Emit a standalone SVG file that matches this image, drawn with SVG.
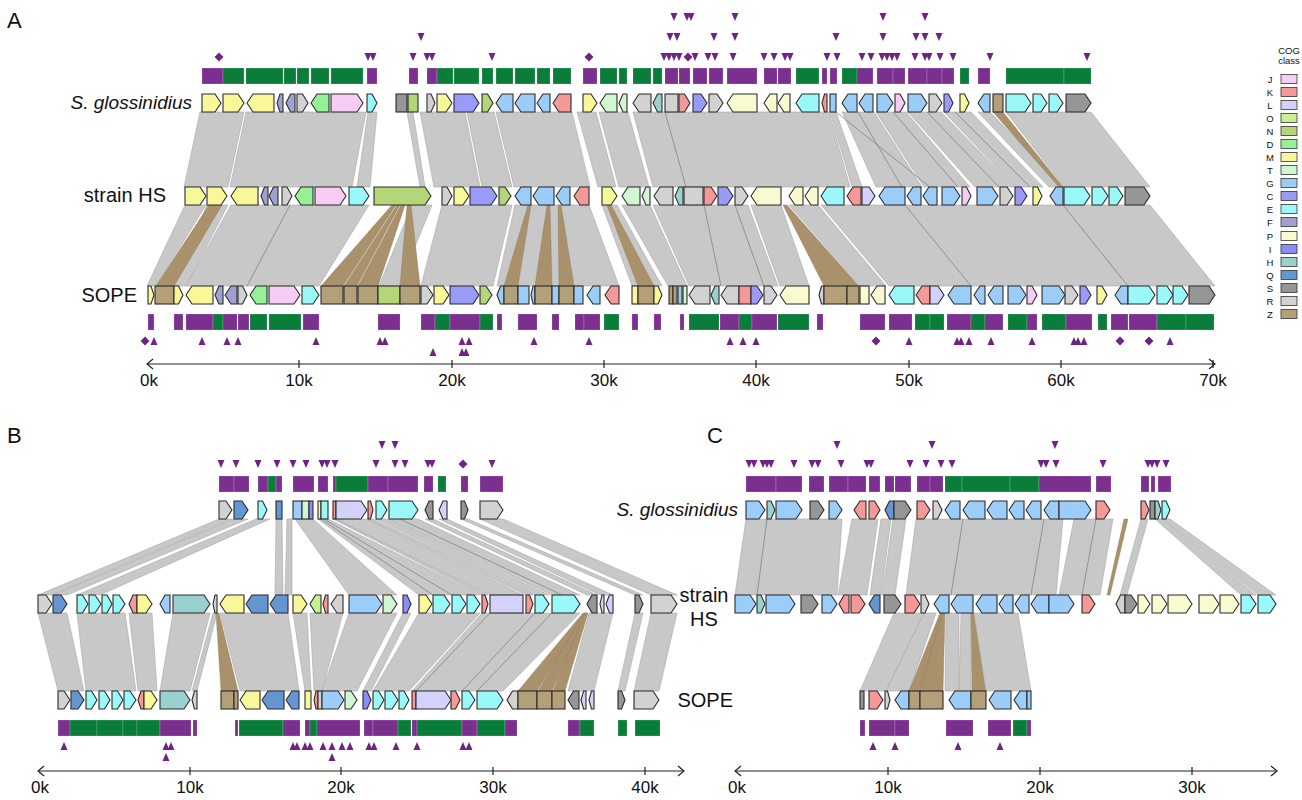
<svg xmlns="http://www.w3.org/2000/svg" width="1302" height="800" viewBox="0 0 1302 800">
<style>
.g{stroke:#2b2b2b;stroke-width:1.1}
.J{fill:#f8cdf5}.K{fill:#f59898}.L{fill:#d2d2fa}.O{fill:#c8f08c}.N{fill:#b4d678}.D{fill:#96f096}.M{fill:#f8f89a}.T{fill:#d2f5d2}.G{fill:#9ccdf8}.C{fill:#9a9af8}.E{fill:#9af8f8}.F{fill:#a0a0d2}.P{fill:#fafad0}.I{fill:#8c8cf8}.H{fill:#9ad0d0}.Q{fill:#6496d2}.S{fill:#969696}.R{fill:#d2d2d2}.Z{fill:#b4a078}
.rb{fill:#c8c8c8;stroke:#a8a8a8;stroke-width:0.6}
.tn{fill:#a8916b;stroke:#8e7a55;stroke-width:0.4}
.ln{stroke:#7a7a7a;stroke-width:0.7}
.bp{fill:#7b2f8f;stroke:#fff;stroke-opacity:.3;stroke-width:.6}
.bg{fill:#0b7d3b;stroke:#fff;stroke-opacity:.3;stroke-width:.6}
.mk{fill:#6e2386}
.lbl{font-family:"Liberation Sans",Arial,sans-serif;font-size:20px;fill:#111}
.it{font-style:italic;font-size:19px}
.pl{font-family:"Liberation Sans",Arial,sans-serif;font-size:22px;fill:#111}
.ax{stroke:#222;stroke-width:1.2;fill:none}
.tk{font-family:"Liberation Sans",Arial,sans-serif;font-size:17px;fill:#111;text-anchor:middle}
.lg{font-family:"Liberation Sans",Arial,sans-serif;font-size:9.5px;fill:#111;text-anchor:middle}
.lb{stroke:#333;stroke-width:0.8}
</style>
<defs>
<path id="td" d="M-3.5,-4 L3.5,-4 L0,4Z"/>
<path id="tu" d="M-3.5,4 L3.5,4 L0,-4Z"/>
<path id="dm" d="M0,-4.5 L4.5,0 L0,4.5 L-4.5,0Z"/>
</defs>
<rect width="1302" height="800" fill="#fff"/>

<g id="connectors">
<polygon class="rb" points="200,112 244,112 228,187 184,187"/>
<polygon class="rb" points="246,112 366,112 352,187 230,187"/>
<polygon class="rb" points="368,112 377,112 370,187 357,187"/>
<polygon class="rb" points="407,112 413,112 425,187 420,187"/>
<polygon class="rb" points="420,112 465,112 480,187 434,187"/>
<polygon class="rb" points="467,112 494,112 512,187 482,187"/>
<polygon class="rb" points="496,112 572,112 590,187 514,187"/>
<polygon class="rb" points="577,112 596,112 616,187 598,187"/>
<polygon class="rb" points="599,112 628,112 649,187 619,187"/>
<polygon class="rb" points="633,112 829,112 850,187 653,187"/>
<polygon class="rb" points="830,112 836,112 862,187 852,187"/>
<polygon class="rb" points="842,112 874,112 922,187 876,187"/>
<polygon class="rb" points="876,112 906,112 970,187 924,187"/>
<polygon class="rb" points="908,112 941,112 1014,187 975,187"/>
<polygon class="rb" points="944,112 971,112 1043,187 1015,187"/>
<polygon class="rb" points="978,112 990,112 1063,187 1049,187"/>
<polygon class="tn" points="993,112 1003,112 1063,187 1059,187"/>
<polygon class="rb" points="1006,112 1091,112 1150,187 1064,187"/>
<line class="ln" x1="665" y1="112" x2="686" y2="187"/>
<line class="ln" x1="836" y1="112" x2="930" y2="187"/>
<line class="ln" x1="858" y1="112" x2="902" y2="187"/>
<line class="ln" x1="893" y1="112" x2="958" y2="187"/>
<line class="ln" x1="927" y1="112" x2="999" y2="187"/>
<line class="ln" x1="955" y1="112" x2="1030" y2="187"/>
<polygon class="rb" points="185,205 206,205 156,286 147,286"/>
<polygon class="rb" points="207,205 228,205 186,286 172,286"/>
<polygon class="tn" points="209,205 222,205 174,286 156,286"/>
<polygon class="rb" points="231,205 369,205 319,286 186,286"/>
<polygon class="rb" points="412,205 432,205 399,286 379,286"/>
<polygon class="tn" points="392,205 396,205 343,286 321,286"/>
<polygon class="tn" points="397,205 400,205 357,286 344,286"/>
<polygon class="tn" points="401,205 405,205 378,286 358,286"/>
<polygon class="tn" points="407,205 411,205 420,286 400,286"/>
<polygon class="rb" points="442,205 512,205 493,286 421,286"/>
<polygon class="rb" points="515,205 589,205 619,286 497,286"/>
<polygon class="tn" points="528,205 531,205 518,286 504,286"/>
<polygon class="tn" points="547,205 550,205 552,286 535,286"/>
<polygon class="tn" points="558,205 561,205 574,286 559,286"/>
<polygon class="rb" points="602,205 617,205 662,286 632,286"/>
<polygon class="tn" points="607,205 611,205 654,286 638,286"/>
<polygon class="rb" points="622,205 650,205 687,286 668,286"/>
<polygon class="rb" points="653,205 748,205 778,286 689,286"/>
<polygon class="rb" points="751,205 781,205 809,286 780,286"/>
<polygon class="tn" points="783,205 787,205 859,286 824,286"/>
<polygon class="rb" points="789,205 818,205 886,286 860,286"/>
<polygon class="rb" points="821,205 1150,205 1215,286 889,286"/>
<line class="ln" x1="290" y1="205" x2="247" y2="286"/>
<line class="ln" x1="704" y1="205" x2="721" y2="286"/>
<line class="ln" x1="735" y1="205" x2="764" y2="286"/>
<line class="ln" x1="905" y1="205" x2="971" y2="286"/>
<line class="ln" x1="1063" y1="205" x2="1128" y2="286"/>
<polygon class="rb" points="219,519 232,519 52,595 38,595"/>
<polygon class="rb" points="234,519 248,519 67,595 53,595"/>
<polygon class="rb" points="256,519 270,519 100,595 77,595"/>
<polygon class="rb" points="276,519 282,519 283,595 275,595"/>
<polygon class="rb" points="287,519 292,519 292,595 285,595"/>
<polygon class="rb" points="295,519 313,519 397,595 349,595"/>
<polygon class="rb" points="318,519 328,519 480,595 419,595"/>
<polygon class="rb" points="333,519 336,519 488,595 482,595"/>
<polygon class="rb" points="336,519 367,519 523,595 490,595"/>
<polygon class="rb" points="368,519 373,519 533,595 526,595"/>
<polygon class="rb" points="376,519 387,519 549,595 535,595"/>
<polygon class="rb" points="389,519 418,519 580,595 552,595"/>
<polygon class="rb" points="425,519 433,519 597,595 587,595"/>
<polygon class="rb" points="439,519 447,519 613,595 600,595"/>
<polygon class="rb" points="461,519 468,519 643,595 635,595"/>
<polygon class="rb" points="480,519 503,519 677,595 651,595"/>
<line class="ln" x1="321" y1="519" x2="433" y2="595"/>
<line class="ln" x1="324" y1="519" x2="452" y2="595"/>
<line class="ln" x1="400" y1="519" x2="562" y2="595"/>
<polygon class="rb" points="38,613 67,613 84,691 58,691"/>
<polygon class="rb" points="77,613 125,613 136,691 86,691"/>
<polygon class="rb" points="129,613 152,613 157,691 138,691"/>
<polygon class="rb" points="173,613 210,613 190,691 160,691"/>
<polygon class="rb" points="213,613 217,613 197,691 192,691"/>
<polygon class="tn" points="216,613 219,613 238,691 221,691"/>
<polygon class="rb" points="220,613 288,613 299,691 240,691"/>
<polygon class="rb" points="293,613 307,613 311,691 305,691"/>
<polygon class="rb" points="310,613 343,613 322,691 314,691"/>
<polygon class="rb" points="349,613 397,613 357,691 322,691"/>
<polygon class="rb" points="403,613 411,613 371,691 363,691"/>
<polygon class="rb" points="419,613 480,613 409,691 373,691"/>
<polygon class="rb" points="482,613 580,613 503,691 412,691"/>
<polygon class="tn" points="583,613 586,613 537,691 518,691"/>
<polygon class="tn" points="584,613 587,613 552,691 538,691"/>
<polygon class="tn" points="585,613 588,613 565,691 553,691"/>
<polygon class="rb" points="589,613 613,613 594,691 568,691"/>
<polygon class="rb" points="635,613 643,613 625,691 618,691"/>
<polygon class="rb" points="651,613 677,613 659,691 634,691"/>
<line class="ln" x1="490" y1="613" x2="416" y2="691"/>
<line class="ln" x1="535" y1="613" x2="462" y2="691"/>
<line class="ln" x1="552" y1="613" x2="477" y2="691"/>
<polygon class="rb" points="746,519 842,519 837,595 735,595"/>
<polygon class="rb" points="852,519 878,519 867,595 838,595"/>
<polygon class="rb" points="881,519 891,519 881,595 870,595"/>
<polygon class="rb" points="893,519 906,519 895,595 882,595"/>
<polygon class="rb" points="916,519 1063,519 1056,595 906,595"/>
<polygon class="rb" points="1074,519 1113,519 1100,595 1059,595"/>
<polygon class="tn" points="1124,519 1128,519 1110,595 1107,595"/>
<polygon class="rb" points="1141,519 1148,519 1127,595 1120,595"/>
<polygon class="rb" points="1155,519 1162,519 1256,595 1241,595"/>
<polygon class="rb" points="1163,519 1170,519 1276,595 1258,595"/>
<line class="ln" x1="767" y1="519" x2="757" y2="595"/>
<line class="ln" x1="963" y1="519" x2="951" y2="595"/>
<line class="ln" x1="1044" y1="519" x2="1031" y2="595"/>
<line class="ln" x1="1096" y1="519" x2="1082" y2="595"/>
<polygon class="rb" points="894,613 924,613 886,691 860,691"/>
<polygon class="rb" points="924,613 936,613 909,691 886,691"/>
<polygon class="tn" points="940,613 943,613 920,691 909,691"/>
<polygon class="tn" points="942,613 945,613 943,691 920,691"/>
<polygon class="rb" points="946,613 959,613 959,691 945,691"/>
<polygon class="rb" points="961,613 971,613 971,691 959,691"/>
<polygon class="tn" points="971,613 974,613 986,691 972,691"/>
<polygon class="rb" points="974,613 1018,613 1031,691 986,691"/>
</g>

<g id="A-sg-bars">
<rect class="bp" x="202" y="68" width="21" height="16"/>
<rect class="bg" x="223" y="68" width="21" height="16"/><rect class="bg" x="246" y="68" width="37" height="16"/><rect class="bg" x="284" y="68" width="12" height="16"/><rect class="bg" x="297" y="68" width="12" height="16"/><rect class="bg" x="311" y="68" width="18" height="16"/><rect class="bg" x="331" y="68" width="32" height="16"/>
<rect class="bp" x="367" y="68" width="10" height="16"/>
<rect class="bp" x="409" y="68" width="9" height="16"/>
<rect class="bp" x="427" y="68" width="10" height="16"/>
<rect class="bg" x="437" y="68" width="16" height="16"/><rect class="bg" x="454" y="68" width="25" height="16"/><rect class="bg" x="482" y="68" width="11" height="16"/><rect class="bg" x="496" y="68" width="17" height="16"/><rect class="bg" x="515" y="68" width="20" height="16"/><rect class="bg" x="537" y="68" width="13" height="16"/>
<rect class="bg" x="553" y="68" width="18" height="16"/>
<rect class="bp" x="583" y="68" width="14" height="16"/>
<rect class="bg" x="600" y="68" width="17" height="16"/><rect class="bg" x="619" y="68" width="8" height="16"/>
<rect class="bg" x="633" y="68" width="18" height="16"/><rect class="bg" x="653" y="68" width="9" height="16"/>
<rect class="bp" x="665" y="68" width="13" height="16"/><rect class="bp" x="679" y="68" width="11" height="16"/><rect class="bp" x="693" y="68" width="14" height="16"/><rect class="bp" x="709" y="68" width="14" height="16"/>
<rect class="bp" x="727" y="68" width="30" height="16"/>
<rect class="bp" x="764" y="68" width="13" height="16"/><rect class="bp" x="778" y="68" width="13" height="16"/>
<rect class="bg" x="796" y="68" width="23" height="16"/>
<rect class="bp" x="822" y="68" width="5" height="16"/>
<rect class="bp" x="830" y="68" width="7" height="16"/>
<rect class="bg" x="842" y="68" width="15" height="16"/>
<rect class="bp" x="857" y="68" width="16" height="16"/>
<rect class="bp" x="877" y="68" width="16" height="16"/><rect class="bp" x="893" y="68" width="12" height="16"/>
<rect class="bp" x="908" y="68" width="19" height="16"/><rect class="bp" x="927" y="68" width="15" height="16"/><rect class="bp" x="942" y="68" width="12" height="16"/>
<rect class="bg" x="960" y="68" width="9" height="16"/>
<rect class="bp" x="978" y="68" width="12" height="16"/>
<rect class="bg" x="1006" y="68" width="58" height="16"/><rect class="bg" x="1064" y="68" width="27" height="16"/>
</g>
<g id="A-sg-marks">
<use href="#td" x="368" y="57" class="mk"/><use href="#td" x="373" y="57" class="mk"/><use href="#td" x="413" y="57" class="mk"/><use href="#td" x="427" y="57" class="mk"/><use href="#td" x="432" y="57" class="mk"/><use href="#td" x="492" y="57" class="mk"/>
<use href="#dm" x="219" y="57" class="mk"/><use href="#dm" x="589" y="57" class="mk"/><use href="#dm" x="688" y="57" class="mk"/>
<use href="#td" x="664" y="57" class="mk"/><use href="#td" x="669" y="57" class="mk"/><use href="#td" x="674" y="57" class="mk"/><use href="#td" x="679" y="57" class="mk"/><use href="#td" x="695" y="57" class="mk"/><use href="#td" x="708" y="57" class="mk"/><use href="#td" x="715" y="57" class="mk"/><use href="#td" x="733" y="57" class="mk"/><use href="#td" x="764" y="57" class="mk"/><use href="#td" x="774" y="57" class="mk"/><use href="#td" x="785" y="57" class="mk"/><use href="#td" x="790" y="57" class="mk"/><use href="#td" x="827" y="57" class="mk"/><use href="#td" x="837" y="57" class="mk"/><use href="#td" x="862" y="57" class="mk"/><use href="#td" x="871" y="57" class="mk"/><use href="#td" x="882" y="57" class="mk"/><use href="#td" x="887" y="57" class="mk"/><use href="#td" x="892" y="57" class="mk"/><use href="#td" x="897" y="57" class="mk"/><use href="#td" x="915" y="57" class="mk"/><use href="#td" x="925" y="57" class="mk"/><use href="#td" x="929" y="57" class="mk"/><use href="#td" x="940" y="57" class="mk"/><use href="#td" x="953" y="57" class="mk"/><use href="#td" x="990" y="57" class="mk"/><use href="#td" x="1087" y="57" class="mk"/>
<use href="#td" x="421" y="37" class="mk"/><use href="#td" x="670" y="37" class="mk"/><use href="#td" x="677" y="37" class="mk"/><use href="#td" x="714" y="37" class="mk"/><use href="#td" x="735" y="37" class="mk"/><use href="#td" x="836" y="37" class="mk"/><use href="#td" x="883" y="37" class="mk"/><use href="#td" x="916" y="37" class="mk"/><use href="#td" x="925" y="37" class="mk"/><use href="#td" x="939" y="37" class="mk"/>
<use href="#td" x="674" y="17" class="mk"/><use href="#td" x="687" y="17" class="mk"/><use href="#td" x="691" y="17" class="mk"/><use href="#td" x="735" y="17" class="mk"/><use href="#td" x="883" y="17" class="mk"/><use href="#td" x="925" y="17" class="mk"/>
</g>

<g id="A-sg-genes">
<polygon class="g M" points="202,94 215,94 221,103 215,112 202,112"/>
<polygon class="g M" points="223,94 238,94 244,103 238,112 223,112"/>
<polygon class="g M" points="247,103 253,94 274,94 274,112 253,112"/>
<polygon class="g F" points="277,103 280,94 283,94 283,112 280,112"/>
<polygon class="g F" points="286,103 290.5,94 295,94 295,112 290.5,112"/>
<polygon class="g R" points="297,94 302.5,94 308,103 302.5,112 297,112"/>
<polygon class="g D" points="311,103 317,94 329,94 329,112 317,112"/>
<polygon class="g J" points="331,94 357,94 363,103 357,112 331,112"/>
<polygon class="g E" points="367,94 372,94 377,103 372,112 367,112"/>
<rect class="g S" x="396" y="94" width="11" height="18"/>
<rect class="g N" x="408" y="94" width="10" height="18"/>
<polygon class="g R" points="427,94 431,94 435,103 431,112 427,112"/>
<polygon class="g M" points="437,94 446,94 452,103 446,112 437,112"/>
<polygon class="g C" points="454,94 473,94 479,103 473,112 454,112"/>
<polygon class="g N" points="482,94 487.5,94 493,103 487.5,112 482,112"/>
<polygon class="g G" points="496,103 502,94 513,94 513,112 502,112"/>
<polygon class="g G" points="515,103 521,94 535,94 535,112 521,112"/>
<polygon class="g G" points="537,103 543,94 550,94 550,112 543,112"/>
<polygon class="g K" points="553,103 559,94 571,94 571,112 559,112"/>
<polygon class="g M" points="583,94 591,94 597,103 591,112 583,112"/>
<polygon class="g T" points="600,103 606,94 617,94 617,112 606,112"/>
<polygon class="g T" points="619,103 623,94 627,94 627,112 623,112"/>
<polygon class="g R" points="633,103 639,94 651,94 651,112 639,112"/>
<polygon class="g H" points="653,103 657.5,94 662,94 662,112 657.5,112"/>
<rect class="g R" x="665" y="94" width="13" height="18"/>
<polygon class="g K" points="679,94 684.5,94 690,103 684.5,112 679,112"/>
<polygon class="g C" points="693,94 701,94 707,103 701,112 693,112"/>
<polygon class="g R" points="709,94 717,94 723,103 717,112 709,112"/>
<polygon class="g P" points="727,103 733,94 757,94 757,112 733,112"/>
<polygon class="g P" points="764,103 770,94 777,94 777,112 770,112"/>
<polygon class="g P" points="778,103 784,94 790,94 790,112 784,112"/>
<polygon class="g E" points="796,103 802,94 819,94 819,112 802,112"/>
<polygon class="g K" points="822,103 824.5,94 827,94 827,112 824.5,112"/>
<rect class="g G" x="830" y="94" width="6" height="18"/>
<polygon class="g G" points="842,103 848,94 857,94 857,112 848,112"/>
<polygon class="g G" points="859,103 865,94 873,94 873,112 865,112"/>
<polygon class="g G" points="877,94 887,94 893,103 887,112 877,112"/>
<polygon class="g J" points="895,94 900,94 905,103 900,112 895,112"/>
<polygon class="g G" points="908,94 921,94 927,103 921,112 908,112"/>
<polygon class="g R" points="929,94 936,94 942,103 936,112 929,112"/>
<polygon class="g C" points="944,94 948.5,94 953,103 948.5,112 944,112"/>
<polygon class="g M" points="960,94 964.5,94 969,103 964.5,112 960,112"/>
<polygon class="g G" points="978,103 984,94 990,94 990,112 984,112"/>
<rect class="g Z" x="993" y="94" width="10" height="18"/>
<polygon class="g E" points="1006,94 1025,94 1031,103 1025,112 1006,112"/>
<polygon class="g E" points="1033,94 1041,94 1047,103 1041,112 1033,112"/>
<polygon class="g E" points="1049,94 1057,94 1063,103 1057,112 1049,112"/>
<polygon class="g S" points="1066,94 1085,94 1091,103 1085,112 1066,112"/>
</g>

<g id="A-hs-genes">
<polygon class="g M" points="185,187 200,187 206,196 200,205 185,205"/>
<polygon class="g M" points="207,187 221,187 227,196 221,205 207,205"/>
<polygon class="g M" points="231,196 237,187 258,187 258,205 237,205"/>
<polygon class="g F" points="261,196 264.5,187 268,187 268,205 264.5,205"/>
<polygon class="g F" points="269,196 273.5,187 278,187 278,205 273.5,205"/>
<polygon class="g R" points="282,187 287,187 292,196 287,205 282,205"/>
<polygon class="g D" points="295,196 301,187 313,187 313,205 301,205"/>
<polygon class="g J" points="315,187 340,187 346,196 340,205 315,205"/>
<polygon class="g E" points="349,187 363,187 369,196 363,205 349,205"/>
<polygon class="g N" points="374,187 425,187 431,196 425,205 374,205"/>
<polygon class="g R" points="442,187 447,187 452,196 447,205 442,205"/>
<polygon class="g M" points="454,187 463,187 469,196 463,205 454,205"/>
<polygon class="g C" points="470,187 491,187 497,196 491,205 470,205"/>
<polygon class="g N" points="499,187 505,187 511,196 505,205 499,205"/>
<polygon class="g G" points="515,196 521,187 531,187 531,205 521,205"/>
<polygon class="g G" points="533,196 539,187 554,187 554,205 539,205"/>
<polygon class="g G" points="556,196 562,187 570,187 570,205 562,205"/>
<polygon class="g K" points="574,196 580,187 589,187 589,205 580,205"/>
<polygon class="g M" points="602,187 611,187 617,196 611,205 602,205"/>
<polygon class="g T" points="622,196 628,187 640,187 640,205 628,205"/>
<polygon class="g T" points="642,196 646,187 650,187 650,205 646,205"/>
<polygon class="g R" points="654,196 660,187 673,187 673,205 660,205"/>
<polygon class="g H" points="675,196 679,187 683,187 683,205 679,205"/>
<rect class="g R" x="684" y="187" width="19" height="18"/>
<polygon class="g K" points="704,187 711,187 717,196 711,205 704,205"/>
<polygon class="g C" points="718,187 727,187 733,196 727,205 718,205"/>
<polygon class="g R" points="735,187 742,187 748,196 742,205 735,205"/>
<polygon class="g P" points="751,196 757,187 781,187 781,205 757,205"/>
<polygon class="g P" points="789,196 795,187 803,187 803,205 795,205"/>
<polygon class="g P" points="805,196 811,187 818,187 818,205 811,205"/>
<polygon class="g E" points="821,196 827,187 844,187 844,205 827,205"/>
<polygon class="g K" points="847,196 853,187 861,187 861,205 853,205"/>
<polygon class="g L" points="862,187 869,187 875,196 869,205 862,205"/>
<polygon class="g G" points="879,196 885,187 905,187 905,205 885,205"/>
<polygon class="g G" points="907,196 913,187 921,187 921,205 913,205"/>
<polygon class="g G" points="923,196 929,187 937,187 937,205 929,205"/>
<polygon class="g G" points="942,187 954,187 960,196 954,205 942,205"/>
<polygon class="g J" points="962,187 966.5,187 971,196 966.5,205 962,205"/>
<polygon class="g G" points="977,187 992,187 998,196 992,205 977,205"/>
<polygon class="g R" points="1000,187 1007,187 1013,196 1007,205 1000,205"/>
<polygon class="g C" points="1015,187 1021,187 1027,196 1021,205 1015,205"/>
<polygon class="g M" points="1033,187 1037.5,187 1042,196 1037.5,205 1033,205"/>
<polygon class="g G" points="1050,196 1056,187 1063,187 1063,205 1056,205"/>
<polygon class="g E" points="1064,187 1084,187 1090,196 1084,205 1064,205"/>
<polygon class="g E" points="1092,187 1102,187 1108,196 1102,205 1092,205"/>
<polygon class="g E" points="1109,187 1117,187 1123,196 1117,205 1109,205"/>
<polygon class="g S" points="1125,187 1144,187 1150,196 1144,205 1125,205"/>
</g>

<g id="A-sope-genes">
<polygon class="g M" points="148,286 151,286 154,295 151,304 148,304"/>
<rect class="g Z" x="155" y="286" width="19" height="18"/>
<polygon class="g M" points="174,286 178.5,286 183,295 178.5,304 174,304"/>
<polygon class="g M" points="186,295 192,286 213,286 213,304 192,304"/>
<polygon class="g F" points="215,295 219,286 223,286 223,304 219,304"/>
<polygon class="g F" points="225,295 231,286 237,286 237,304 231,304"/>
<polygon class="g R" points="238,286 242.5,286 247,295 242.5,304 238,304"/>
<polygon class="g D" points="250,295 256,286 267,286 267,304 256,304"/>
<polygon class="g J" points="269,286 294,286 300,295 294,304 269,304"/>
<polygon class="g E" points="302,286 313,286 319,295 313,304 302,304"/>
<rect class="g Z" x="321" y="286" width="22" height="18"/>
<rect class="g Z" x="344" y="286" width="13" height="18"/>
<rect class="g Z" x="358" y="286" width="20" height="18"/>
<rect class="g N" x="378" y="286" width="22" height="18"/>
<rect class="g Z" x="400" y="286" width="20" height="18"/>
<polygon class="g R" points="421,286 427,286 433,295 427,304 421,304"/>
<polygon class="g M" points="434,286 443,286 449,295 443,304 434,304"/>
<polygon class="g C" points="450,286 473,286 479,295 473,304 450,304"/>
<polygon class="g N" points="480,286 486,286 492,295 486,304 480,304"/>
<polygon class="g G" points="497,295 500.5,286 504,286 504,304 500.5,304"/>
<rect class="g Z" x="504" y="286" width="14" height="18"/>
<rect class="g G" x="518" y="286" width="11" height="18"/>
<polygon class="g G" points="531,295 533,286 535,286 535,304 533,304"/>
<rect class="g Z" x="535" y="286" width="17" height="18"/>
<rect class="g G" x="552" y="286" width="7" height="18"/>
<rect class="g Z" x="559" y="286" width="15" height="18"/>
<rect class="g G" x="574" y="286" width="9" height="18"/>
<polygon class="g G" points="587,295 593,286 600,286 600,304 593,304"/>
<polygon class="g K" points="605,295 611,286 619,286 619,304 611,304"/>
<rect class="g M" x="632" y="286" width="6" height="18"/>
<rect class="g Z" x="638" y="286" width="16" height="18"/>
<polygon class="g M" points="654,286 658,286 662,295 658,304 654,304"/>
<rect class="g Z" x="669" y="286" width="4" height="18"/>
<rect class="g Z" x="673" y="286" width="4" height="18"/>
<rect class="g G" x="678" y="286" width="4" height="18"/>
<rect class="g T" x="683" y="286" width="4" height="18"/>
<polygon class="g R" points="689,295 695,286 710,286 710,304 695,304"/>
<polygon class="g H" points="711,295 715,286 719,286 719,304 715,304"/>
<polygon class="g R" points="721,295 727,286 739,286 739,304 727,304"/>
<rect class="g K" x="739" y="286" width="12" height="18"/>
<polygon class="g C" points="751,286 757,286 763,295 757,304 751,304"/>
<polygon class="g R" points="764,286 771,286 777,295 771,304 764,304"/>
<polygon class="g P" points="780,295 786,286 809,286 809,304 786,304"/>
<polygon class="g R" points="819,295 821.5,286 824,286 824,304 821.5,304"/>
<rect class="g Z" x="824" y="286" width="23" height="18"/>
<rect class="g Z" x="847" y="286" width="12" height="18"/>
<rect class="g P" x="860" y="286" width="9" height="18"/>
<polygon class="g P" points="871,295 877,286 885,286 885,304 877,304"/>
<polygon class="g E" points="889,295 895,286 914,286 914,304 895,304"/>
<polygon class="g K" points="916,295 922,286 930,286 930,304 922,304"/>
<polygon class="g L" points="930,286 938,286 944,295 938,304 930,304"/>
<polygon class="g G" points="948,295 954,286 971,286 971,304 954,304"/>
<polygon class="g G" points="974,295 980,286 985,286 985,304 980,304"/>
<polygon class="g G" points="988,295 994,286 1003,286 1003,304 994,304"/>
<polygon class="g G" points="1008,286 1020,286 1026,295 1020,304 1008,304"/>
<polygon class="g J" points="1027,286 1032,286 1037,295 1032,304 1027,304"/>
<polygon class="g G" points="1042,286 1059,286 1065,295 1059,304 1042,304"/>
<polygon class="g R" points="1065,286 1072,286 1078,295 1072,304 1065,304"/>
<polygon class="g C" points="1080,286 1085.5,286 1091,295 1085.5,304 1080,304"/>
<polygon class="g M" points="1097,286 1102,286 1107,295 1102,304 1097,304"/>
<polygon class="g G" points="1115,295 1121,286 1128,286 1128,304 1121,304"/>
<polygon class="g E" points="1128,286 1149,286 1155,295 1149,304 1128,304"/>
<polygon class="g E" points="1157,286 1167,286 1173,295 1167,304 1157,304"/>
<polygon class="g E" points="1173,286 1182,286 1188,295 1182,304 1173,304"/>
<polygon class="g S" points="1189,286 1209,286 1215,295 1209,304 1189,304"/>
</g>

<g id="A-sope-bars">
<rect class="bp" x="148" y="314" width="6" height="16"/>
<rect class="bp" x="174" y="314" width="9" height="16"/>
<rect class="bp" x="186" y="314" width="27" height="16"/><rect class="bg" x="213" y="314" width="10" height="16"/><rect class="bp" x="223" y="314" width="14" height="16"/><rect class="bp" x="238" y="314" width="11" height="16"/><rect class="bg" x="250" y="314" width="17" height="16"/><rect class="bg" x="269" y="314" width="32" height="16"/><rect class="bp" x="303" y="314" width="16" height="16"/>
<rect class="bp" x="378" y="314" width="22" height="16"/>
<rect class="bp" x="421" y="314" width="14" height="16"/><rect class="bg" x="435" y="314" width="15" height="16"/><rect class="bp" x="450" y="314" width="30" height="16"/><rect class="bg" x="480" y="314" width="13" height="16"/><rect class="bp" x="497" y="314" width="5" height="16"/>
<rect class="bp" x="518" y="314" width="19" height="16"/>
<rect class="bp" x="552" y="314" width="7" height="16"/>
<rect class="bp" x="575" y="314" width="9" height="16"/><rect class="bp" x="584" y="314" width="16" height="16"/><rect class="bg" x="604" y="314" width="15" height="16"/>
<rect class="bp" x="632" y="314" width="6" height="16"/>
<rect class="bp" x="654" y="314" width="7" height="16"/>
<rect class="bp" x="680" y="314" width="4" height="16"/>
<rect class="bg" x="689" y="314" width="30" height="16"/><rect class="bp" x="720" y="314" width="19" height="16"/><rect class="bg" x="739" y="314" width="13" height="16"/><rect class="bp" x="752" y="314" width="25" height="16"/><rect class="bg" x="778" y="314" width="31" height="16"/>
<rect class="bp" x="817" y="314" width="6" height="16"/>
<rect class="bp" x="860" y="314" width="25" height="16"/>
<rect class="bp" x="889" y="314" width="23" height="16"/><rect class="bg" x="915" y="314" width="15" height="16"/><rect class="bg" x="930" y="314" width="14" height="16"/>
<rect class="bp" x="947" y="314" width="24" height="16"/><rect class="bg" x="971" y="314" width="14" height="16"/><rect class="bp" x="985" y="314" width="18" height="16"/>
<rect class="bg" x="1008" y="314" width="19" height="16"/><rect class="bp" x="1027" y="314" width="10" height="16"/>
<rect class="bg" x="1042" y="314" width="24" height="16"/><rect class="bp" x="1066" y="314" width="26" height="16"/>
<rect class="bg" x="1098" y="314" width="9" height="16"/>
<rect class="bp" x="1111" y="314" width="17" height="16"/><rect class="bp" x="1129" y="314" width="28" height="16"/><rect class="bg" x="1157" y="314" width="29" height="16"/><rect class="bg" x="1186" y="314" width="28" height="16"/>
</g>
<g id="A-sope-marks">
<use href="#dm" x="145" y="341" class="mk"/><use href="#dm" x="876" y="341" class="mk"/><use href="#dm" x="1120" y="341" class="mk"/><use href="#dm" x="1149" y="341" class="mk"/>
<use href="#tu" x="154" y="341" class="mk"/><use href="#tu" x="202" y="341" class="mk"/><use href="#tu" x="227" y="341" class="mk"/><use href="#tu" x="238" y="341" class="mk"/><use href="#tu" x="316" y="341" class="mk"/><use href="#tu" x="380" y="341" class="mk"/><use href="#tu" x="385" y="341" class="mk"/><use href="#tu" x="462" y="341" class="mk"/><use href="#tu" x="469" y="341" class="mk"/><use href="#tu" x="534" y="341" class="mk"/><use href="#tu" x="589" y="341" class="mk"/><use href="#tu" x="730" y="341" class="mk"/><use href="#tu" x="743" y="341" class="mk"/><use href="#tu" x="756" y="341" class="mk"/><use href="#tu" x="909" y="341" class="mk"/><use href="#tu" x="957" y="341" class="mk"/><use href="#tu" x="961" y="341" class="mk"/><use href="#tu" x="969" y="341" class="mk"/><use href="#tu" x="991" y="341" class="mk"/><use href="#tu" x="1032" y="341" class="mk"/><use href="#tu" x="1074" y="341" class="mk"/><use href="#tu" x="1078" y="341" class="mk"/><use href="#tu" x="1084" y="341" class="mk"/><use href="#tu" x="1170" y="341" class="mk"/>
<use href="#tu" x="433" y="352" class="mk"/><use href="#tu" x="462" y="352" class="mk"/><use href="#tu" x="466" y="352" class="mk"/>
</g>

<g id="B-sg">
<rect class="bp" x="219" y="476" width="15" height="16"/><rect class="bp" x="234" y="476" width="15" height="16"/>
<rect class="bp" x="258" y="476" width="10" height="16"/><rect class="bg" x="268" y="476" width="8" height="16"/><rect class="bp" x="276" y="476" width="6" height="16"/>
<rect class="bp" x="293" y="476" width="21" height="16"/>
<rect class="bp" x="318" y="476" width="10" height="16"/>
<rect class="bp" x="333" y="476" width="3" height="16"/><rect class="bg" x="336" y="476" width="32" height="16"/><rect class="bp" x="368" y="476" width="20" height="16"/><rect class="bp" x="388" y="476" width="30" height="16"/>
<rect class="bp" x="424" y="476" width="9" height="16"/>
<rect class="bg" x="438" y="476" width="8" height="16"/>
<rect class="bp" x="461" y="476" width="7" height="16"/>
<rect class="bp" x="480" y="476" width="23" height="16"/>
<use href="#td" x="221" y="464" class="mk"/><use href="#td" x="236" y="464" class="mk"/><use href="#td" x="258" y="464" class="mk"/><use href="#td" x="277" y="464" class="mk"/><use href="#td" x="293" y="464" class="mk"/><use href="#td" x="306" y="464" class="mk"/><use href="#td" x="322" y="464" class="mk"/><use href="#td" x="327" y="464" class="mk"/><use href="#td" x="335" y="464" class="mk"/><use href="#td" x="376" y="464" class="mk"/><use href="#td" x="395" y="464" class="mk"/><use href="#td" x="405" y="464" class="mk"/><use href="#td" x="428" y="464" class="mk"/><use href="#td" x="432" y="464" class="mk"/><use href="#dm" x="463" y="464" class="mk"/><use href="#td" x="492" y="464" class="mk"/>
<use href="#td" x="382" y="445" class="mk"/><use href="#td" x="395" y="445" class="mk"/>
<polygon class="g R" points="219,501 226,501 232,510 226,519 219,519"/>
<polygon class="g Q" points="234,501 242,501 248,510 242,519 234,519"/>
<polygon class="g E" points="258,501 262.5,501 267,510 262.5,519 258,519"/>
<rect class="g Q" x="276" y="501" width="6" height="18"/>
<rect class="g G" x="293" y="501" width="9" height="18"/>
<rect class="g T" x="302" y="501" width="7" height="18"/>
<rect class="g I" x="309" y="501" width="4" height="18"/>
<rect class="g M" x="318" y="501" width="3" height="18"/>
<rect class="g E" x="321" y="501" width="7" height="18"/>
<rect class="g K" x="333" y="501" width="3" height="18"/>
<polygon class="g L" points="336,501 361,501 367,510 361,519 336,519"/>
<polygon class="g K" points="368,501 370.5,501 373,510 370.5,519 368,519"/>
<polygon class="g E" points="376,501 381.5,501 387,510 381.5,519 376,519"/>
<polygon class="g E" points="389,501 412,501 418,510 412,519 389,519"/>
<polygon class="g S" points="425,510 429,501 433,501 433,519 429,519"/>
<polygon class="g L" points="439,510 443,501 447,501 447,519 443,519"/>
<polygon class="g S" points="461,501 464.5,501 468,510 464.5,519 461,519"/>
<polygon class="g R" points="480,501 497,501 503,510 497,519 480,519"/>
</g>

<g id="B-hs-genes">
<polygon class="g R" points="38,595 46,595 52,604 46,613 38,613"/>
<polygon class="g Q" points="53,595 61,595 67,604 61,613 53,613"/>
<polygon class="g E" points="77,595 82.5,595 88,604 82.5,613 77,613"/>
<polygon class="g E" points="89,595 95,595 101,604 95,613 89,613"/>
<polygon class="g E" points="102,595 107,595 112,604 107,613 102,613"/>
<polygon class="g E" points="113,595 119,595 125,604 119,613 113,613"/>
<polygon class="g K" points="129,604 133,595 137,595 137,613 133,613"/>
<polygon class="g M" points="137,595 146,595 152,604 146,613 137,613"/>
<polygon class="g G" points="160,604 165,595 170,595 170,613 165,613"/>
<polygon class="g H" points="173,595 204,595 210,604 204,613 173,613"/>
<polygon class="g R" points="213,604 215,595 217,595 217,613 215,613"/>
<polygon class="g M" points="220,604 226,595 244,595 244,613 226,613"/>
<polygon class="g Q" points="246,604 252,595 268,595 268,613 252,613"/>
<polygon class="g Q" points="270,604 276,595 288,595 288,613 276,613"/>
<polygon class="g M" points="293,595 301,595 307,604 301,613 293,613"/>
<polygon class="g O" points="310,604 315.5,595 321,595 321,613 315.5,613"/>
<polygon class="g K" points="323,604 325.5,595 328,595 328,613 325.5,613"/>
<polygon class="g R" points="331,604 337,595 343,595 343,613 337,613"/>
<polygon class="g G" points="349,595 376,595 382,604 376,613 349,613"/>
<polygon class="g T" points="383,595 391,595 397,604 391,613 383,613"/>
<polygon class="g I" points="403,595 407,595 411,604 407,613 403,613"/>
<polygon class="g M" points="419,595 426,595 432,604 426,613 419,613"/>
<polygon class="g E" points="433,595 444,595 450,604 444,613 433,613"/>
<polygon class="g E" points="452,595 460,595 466,604 460,613 452,613"/>
<polygon class="g E" points="467,595 474,595 480,604 474,613 467,613"/>
<polygon class="g K" points="482,595 485,595 488,604 485,613 482,613"/>
<rect class="g L" x="490" y="595" width="33" height="18"/>
<polygon class="g K" points="526,595 529.5,595 533,604 529.5,613 526,613"/>
<polygon class="g E" points="535,595 543,595 549,604 543,613 535,613"/>
<polygon class="g E" points="552,595 574,595 580,604 574,613 552,613"/>
<polygon class="g S" points="587,604 592,595 597,595 597,613 592,613"/>
<polygon class="g L" points="600,604 602,595 604,595 604,613 602,613"/>
<polygon class="g L" points="606,604 609.5,595 613,595 613,613 609.5,613"/>
<polygon class="g S" points="635,595 639,595 643,604 639,613 635,613"/>
<polygon class="g R" points="651,595 671,595 677,604 671,613 651,613"/>
</g>

<g id="B-sope">
<polygon class="g R" points="58,691 64,691 70,700 64,709 58,709"/>
<polygon class="g Q" points="71,691 78,691 84,700 78,709 71,709"/>
<polygon class="g E" points="86,691 91.5,691 97,700 91.5,709 86,709"/>
<polygon class="g E" points="99,691 104.5,691 110,700 104.5,709 99,709"/>
<polygon class="g E" points="112,691 117.5,691 123,700 117.5,709 112,709"/>
<polygon class="g E" points="124,691 130,691 136,700 130,709 124,709"/>
<polygon class="g K" points="138,700 141,691 144,691 144,709 141,709"/>
<polygon class="g M" points="144,691 151,691 157,700 151,709 144,709"/>
<polygon class="g H" points="160,691 184,691 190,700 184,709 160,709"/>
<polygon class="g R" points="192,700 194.5,691 197,691 197,709 194.5,709"/>
<rect class="g Z" x="221" y="691" width="13" height="18"/>
<rect class="g Z" x="234" y="691" width="4" height="18"/>
<polygon class="g M" points="240,700 246,691 260,691 260,709 246,709"/>
<polygon class="g Q" points="262,700 268,691 284,691 284,709 268,709"/>
<polygon class="g Q" points="286,700 292,691 299,691 299,709 292,709"/>
<rect class="g M" x="305" y="691" width="6" height="18"/>
<polygon class="g K" points="314,700 316,691 318,691 318,709 316,709"/>
<rect class="g R" x="318" y="691" width="4" height="18"/>
<polygon class="g G" points="322,691 338,691 344,700 338,709 322,709"/>
<polygon class="g T" points="345,691 351,691 357,700 351,709 345,709"/>
<polygon class="g I" points="363,691 367,691 371,700 367,709 363,709"/>
<polygon class="g E" points="373,691 378.5,691 384,700 378.5,709 373,709"/>
<polygon class="g E" points="385,691 392,691 398,700 392,709 385,709"/>
<polygon class="g E" points="399,691 404,691 409,700 404,709 399,709"/>
<rect class="g K" x="412" y="691" width="4" height="18"/>
<polygon class="g L" points="416,691 445,691 451,700 445,709 416,709"/>
<polygon class="g K" points="451,691 455.5,691 460,700 455.5,709 451,709"/>
<polygon class="g E" points="462,691 469,691 475,700 469,709 462,709"/>
<polygon class="g E" points="477,691 497,691 503,700 497,709 477,709"/>
<polygon class="g R" points="507,700 512.5,691 518,691 518,709 512.5,709"/>
<rect class="g Z" x="518" y="691" width="19" height="18"/>
<rect class="g Z" x="537" y="691" width="15" height="18"/>
<rect class="g Z" x="552" y="691" width="13" height="18"/>
<polygon class="g S" points="568,700 573.5,691 579,691 579,709 573.5,709"/>
<polygon class="g L" points="581,700 583.5,691 586,691 586,709 583.5,709"/>
<polygon class="g L" points="589,700 591.5,691 594,691 594,709 591.5,709"/>
<polygon class="g S" points="618,691 621.5,691 625,700 621.5,709 618,709"/>
<polygon class="g R" points="634,691 653,691 659,700 653,709 634,709"/>
<rect class="bp" x="58" y="720" width="12" height="16"/><rect class="bg" x="70" y="720" width="27" height="16"/><rect class="bg" x="97" y="720" width="26" height="16"/><rect class="bg" x="123" y="720" width="14" height="16"/><rect class="bg" x="137" y="720" width="23" height="16"/><rect class="bp" x="160" y="720" width="31" height="16"/><rect class="bp" x="193" y="720" width="4" height="16"/>
<rect class="bp" x="235" y="720" width="3" height="16"/><rect class="bg" x="239" y="720" width="44" height="16"/><rect class="bp" x="283" y="720" width="17" height="16"/>
<rect class="bp" x="305" y="720" width="5" height="16"/><rect class="bg" x="310" y="720" width="7" height="16"/><rect class="bp" x="317" y="720" width="43" height="16"/>
<rect class="bp" x="364" y="720" width="9" height="16"/><rect class="bp" x="373" y="720" width="25" height="16"/><rect class="bg" x="398" y="720" width="13" height="16"/>
<rect class="bp" x="412" y="720" width="5" height="16"/><rect class="bg" x="417" y="720" width="45" height="16"/><rect class="bp" x="462" y="720" width="15" height="16"/><rect class="bg" x="477" y="720" width="28" height="16"/><rect class="bp" x="505" y="720" width="12" height="16"/>
<rect class="bp" x="568" y="720" width="12" height="16"/><rect class="bg" x="580" y="720" width="14" height="16"/>
<rect class="bg" x="618" y="720" width="9" height="16"/>
<rect class="bg" x="635" y="720" width="25" height="16"/>
<use href="#tu" x="64" y="746" class="mk"/><use href="#tu" x="166" y="746" class="mk"/><use href="#tu" x="171" y="746" class="mk"/><use href="#tu" x="293" y="746" class="mk"/><use href="#tu" x="297" y="746" class="mk"/><use href="#tu" x="305" y="746" class="mk"/><use href="#tu" x="310" y="746" class="mk"/><use href="#tu" x="323" y="746" class="mk"/><use href="#tu" x="332" y="746" class="mk"/><use href="#tu" x="342" y="746" class="mk"/><use href="#tu" x="350" y="746" class="mk"/><use href="#tu" x="369" y="746" class="mk"/><use href="#tu" x="374" y="746" class="mk"/><use href="#tu" x="396" y="746" class="mk"/><use href="#tu" x="417" y="746" class="mk"/><use href="#tu" x="463" y="746" class="mk"/><use href="#tu" x="469" y="746" class="mk"/>
<use href="#tu" x="166" y="757" class="mk"/><use href="#tu" x="332" y="757" class="mk"/>
</g>

<g id="C-sg">
<rect class="bp" x="746" y="476" width="30" height="16"/><rect class="bp" x="776" y="476" width="26" height="16"/>
<rect class="bp" x="809" y="476" width="15" height="16"/>
<rect class="bp" x="829" y="476" width="19" height="16"/><rect class="bp" x="848" y="476" width="18" height="16"/>
<rect class="bp" x="869" y="476" width="11" height="16"/>
<rect class="bp" x="885" y="476" width="9" height="16"/>
<rect class="bp" x="895" y="476" width="16" height="16"/>
<rect class="bp" x="917" y="476" width="13" height="16"/><rect class="bp" x="930" y="476" width="13" height="16"/>
<rect class="bg" x="945" y="476" width="17" height="16"/><rect class="bg" x="962" y="476" width="48" height="16"/><rect class="bg" x="1010" y="476" width="29" height="16"/>
<rect class="bp" x="1039" y="476" width="52" height="16"/>
<rect class="bp" x="1096" y="476" width="15" height="16"/>
<rect class="bp" x="1141" y="476" width="8" height="16"/><rect class="bp" x="1151" y="476" width="4" height="16"/><rect class="bp" x="1158" y="476" width="13" height="16"/>
<use href="#td" x="749" y="464" class="mk"/><use href="#td" x="754" y="464" class="mk"/><use href="#td" x="763" y="464" class="mk"/><use href="#td" x="767" y="464" class="mk"/><use href="#td" x="771" y="464" class="mk"/><use href="#td" x="794" y="464" class="mk"/><use href="#td" x="812" y="464" class="mk"/><use href="#td" x="818" y="464" class="mk"/><use href="#td" x="841" y="464" class="mk"/><use href="#td" x="867" y="464" class="mk"/><use href="#td" x="871" y="464" class="mk"/><use href="#td" x="910" y="464" class="mk"/><use href="#td" x="926" y="464" class="mk"/><use href="#td" x="941" y="464" class="mk"/><use href="#td" x="952" y="464" class="mk"/><use href="#td" x="1041" y="464" class="mk"/><use href="#td" x="1046" y="464" class="mk"/><use href="#td" x="1056" y="464" class="mk"/><use href="#td" x="1103" y="464" class="mk"/><use href="#td" x="1148" y="464" class="mk"/><use href="#td" x="1152" y="464" class="mk"/><use href="#td" x="1157" y="464" class="mk"/><use href="#td" x="1166" y="464" class="mk"/>
<use href="#td" x="837" y="445" class="mk"/><use href="#td" x="932" y="445" class="mk"/><use href="#td" x="1055" y="445" class="mk"/>
<polygon class="g G" points="746,501 759,501 765,510 759,519 746,519"/>
<polygon class="g H" points="767,501 771,501 775,510 771,519 767,519"/>
<polygon class="g G" points="776,501 796,501 802,510 796,519 776,519"/>
<polygon class="g S" points="810,501 818,501 824,510 818,519 810,519"/>
<polygon class="g G" points="829,501 836,501 842,510 836,519 829,519"/>
<polygon class="g K" points="854,510 860,501 866,501 866,519 860,519"/>
<polygon class="g K" points="869,501 874.5,501 880,510 874.5,519 869,519"/>
<polygon class="g Q" points="885,510 889.5,501 894,501 894,519 889.5,519"/>
<polygon class="g S" points="894,501 905,501 911,510 905,519 894,519"/>
<polygon class="g K" points="917,501 924,501 930,510 924,519 917,519"/>
<polygon class="g R" points="933,501 937.5,501 942,510 937.5,519 933,519"/>
<polygon class="g G" points="945,510 951,501 960,501 960,519 951,519"/>
<polygon class="g G" points="963,510 969,501 985,501 985,519 969,519"/>
<polygon class="g G" points="987,510 993,501 1007,501 1007,519 993,519"/>
<polygon class="g G" points="1009,510 1015,501 1024,501 1024,519 1015,519"/>
<polygon class="g G" points="1026,510 1032,501 1041,501 1041,519 1032,519"/>
<polygon class="g G" points="1044,510 1050,501 1059,501 1059,519 1050,519"/>
<polygon class="g G" points="1059,501 1085,501 1091,510 1085,519 1059,519"/>
<polygon class="g K" points="1096,501 1104,501 1110,510 1104,519 1096,519"/>
<polygon class="g K" points="1141,501 1145,501 1149,510 1145,519 1141,519"/>
<rect class="g S" x="1150" y="501" width="5" height="18"/>
<polygon class="g H" points="1155,501 1158,501 1161,510 1158,519 1155,519"/>
<polygon class="g E" points="1162,501 1166,501 1170,510 1166,519 1162,519"/>
</g>

<g id="C-hs-genes">
<polygon class="g G" points="735,595 750,595 756,604 750,613 735,613"/>
<polygon class="g H" points="757,595 761,595 765,604 761,613 757,613"/>
<polygon class="g G" points="766,595 789,595 795,604 789,613 766,613"/>
<polygon class="g S" points="801,595 812,595 818,604 812,613 801,613"/>
<polygon class="g G" points="822,595 831,595 837,604 831,613 822,613"/>
<polygon class="g K" points="839,604 844,595 849,595 849,613 844,613"/>
<polygon class="g K" points="851,595 859,595 865,604 859,613 851,613"/>
<polygon class="g Q" points="869,604 874.5,595 880,595 880,613 874.5,613"/>
<polygon class="g S" points="884,595 895,595 901,604 895,613 884,613"/>
<polygon class="g K" points="905,595 914,595 920,604 914,613 905,613"/>
<polygon class="g R" points="921,595 925,595 929,604 925,613 921,613"/>
<polygon class="g G" points="934,604 940,595 949,595 949,613 940,613"/>
<polygon class="g G" points="951,604 957,595 973,595 973,613 957,613"/>
<polygon class="g G" points="976,604 982,595 997,595 997,613 982,613"/>
<polygon class="g G" points="999,604 1005,595 1013,595 1013,613 1005,613"/>
<polygon class="g G" points="1015,604 1021,595 1029,595 1029,613 1021,613"/>
<polygon class="g G" points="1031,604 1037,595 1049,595 1049,613 1037,613"/>
<polygon class="g G" points="1049,595 1068,595 1074,604 1068,613 1049,613"/>
<polygon class="g K" points="1082,595 1089,595 1095,604 1089,613 1082,613"/>
<polygon class="g R" points="1116,604 1120.5,595 1125,595 1125,613 1120.5,613"/>
<polygon class="g S" points="1125,595 1131,595 1137,604 1131,613 1125,613"/>
<polygon class="g P" points="1138,595 1144,595 1150,604 1144,613 1138,613"/>
<polygon class="g P" points="1152,595 1161,595 1167,604 1161,613 1152,613"/>
<polygon class="g P" points="1168,595 1186,595 1192,604 1186,613 1168,613"/>
<polygon class="g P" points="1199,595 1213,595 1219,604 1213,613 1199,613"/>
<polygon class="g P" points="1220,595 1233,595 1239,604 1233,613 1220,613"/>
<polygon class="g E" points="1241,595 1250,595 1256,604 1250,613 1241,613"/>
<polygon class="g E" points="1258,595 1270,595 1276,604 1270,613 1258,613"/>
</g>

<g id="C-sope">
<rect class="g S" x="860" y="691" width="4" height="18"/>
<polygon class="g K" points="869,691 877,691 883,700 877,709 869,709"/>
<polygon class="g R" points="885,691 887.5,691 890,700 887.5,709 885,709"/>
<polygon class="g G" points="895,700 901,691 909,691 909,709 901,709"/>
<rect class="g Z" x="909" y="691" width="11" height="18"/>
<rect class="g Z" x="920" y="691" width="23" height="18"/>
<polygon class="g G" points="949,700 955,691 971,691 971,709 955,709"/>
<rect class="g Z" x="971" y="691" width="15" height="18"/>
<polygon class="g G" points="989,700 995,691 1011,691 1011,709 995,709"/>
<polygon class="g G" points="1014,700 1020,691 1027,691 1027,709 1020,709"/>
<rect class="g G" x="1027" y="691" width="4" height="18"/>
<rect class="bp" x="860" y="720" width="5" height="16"/>
<rect class="bp" x="869" y="720" width="26" height="16"/><rect class="bp" x="895" y="720" width="14" height="16"/>
<rect class="bp" x="946" y="720" width="27" height="16"/>
<rect class="bp" x="988" y="720" width="23" height="16"/><rect class="bg" x="1013" y="720" width="14" height="16"/><rect class="bp" x="1027" y="720" width="4" height="16"/>
<use href="#tu" x="873" y="746" class="mk"/><use href="#tu" x="895" y="746" class="mk"/><use href="#tu" x="958" y="746" class="mk"/><use href="#tu" x="1000" y="746" class="mk"/>
</g>

<g id="axes">
<line class="ax" x1="147" y1="364" x2="1215" y2="364"/>
<polyline class="ax" points="153,359 147,364 153,369"/><polyline class="ax" points="1209,359 1215,364 1209,369"/>
<path class="ax" d="M299,360V368M452,360V368M604,360V368M756,360V368M909,360V368M1061,360V368M1213,360V368"/>
<text class="tk" x="149" y="386">0k</text><text class="tk" x="299" y="386">10k</text><text class="tk" x="452" y="386">20k</text><text class="tk" x="604" y="386">30k</text><text class="tk" x="756" y="386">40k</text><text class="tk" x="909" y="386">50k</text><text class="tk" x="1061" y="386">60k</text><text class="tk" x="1213" y="386">70k</text>
<line class="ax" x1="38" y1="771" x2="684" y2="771"/>
<polyline class="ax" points="44,766 38,771 44,776"/><polyline class="ax" points="678,766 684,771 678,776"/>
<path class="ax" d="M190,767V775M341,767V775M493,767V775M645,767V775"/>
<text class="tk" x="40" y="793">0k</text><text class="tk" x="190" y="793">10k</text><text class="tk" x="341" y="793">20k</text><text class="tk" x="493" y="793">30k</text><text class="tk" x="645" y="793">40k</text>
<line class="ax" x1="735" y1="771" x2="1277" y2="771"/>
<polyline class="ax" points="741,766 735,771 741,776"/><polyline class="ax" points="1271,766 1277,771 1271,776"/>
<path class="ax" d="M888,767V775M1040,767V775M1192,767V775"/>
<text class="tk" x="737" y="793">0k</text><text class="tk" x="888" y="793">10k</text><text class="tk" x="1040" y="793">20k</text><text class="tk" x="1192" y="793">30k</text>
</g>

<g id="labels">
<text class="pl" x="7" y="28">A</text>
<text class="pl" x="7" y="443">B</text>
<text class="pl" x="707" y="443">C</text>
<text class="lbl it" x="192" y="109" text-anchor="end">S. glossinidius</text>
<text class="lbl" x="166" y="202" text-anchor="end">strain HS</text>
<text class="lbl" x="137" y="302" text-anchor="end">SOPE</text>
<text class="lbl it" x="738" y="516" text-anchor="end">S. glossinidius</text>
<text class="lbl" x="704" y="602" text-anchor="middle">strain</text>
<text class="lbl" x="704" y="626" text-anchor="middle">HS</text>
<text class="lbl" x="733" y="707" text-anchor="end">SOPE</text>
</g>

<g id="legend">
<text class="lg" x="1289" y="54" font-size="8">COG</text>
<text class="lg" x="1289" y="64" font-size="8">class</text>
<text class="lg" x="1270" y="82.5">J</text><rect class="lb J" x="1281" y="74.5" width="16" height="9"/>
<text class="lg" x="1270" y="95.5">K</text><rect class="lb K" x="1281" y="87.5" width="16" height="9"/>
<text class="lg" x="1270" y="108.5">L</text><rect class="lb L" x="1281" y="100.5" width="16" height="9"/>
<text class="lg" x="1270" y="121.5">O</text><rect class="lb O" x="1281" y="113.5" width="16" height="9"/>
<text class="lg" x="1270" y="134.5">N</text><rect class="lb N" x="1281" y="126.5" width="16" height="9"/>
<text class="lg" x="1270" y="147.5">D</text><rect class="lb D" x="1281" y="139.5" width="16" height="9"/>
<text class="lg" x="1270" y="160.5">M</text><rect class="lb M" x="1281" y="152.5" width="16" height="9"/>
<text class="lg" x="1270" y="173.5">T</text><rect class="lb T" x="1281" y="165.5" width="16" height="9"/>
<text class="lg" x="1270" y="186.5">G</text><rect class="lb G" x="1281" y="178.5" width="16" height="9"/>
<text class="lg" x="1270" y="199.5">C</text><rect class="lb C" x="1281" y="191.5" width="16" height="9"/>
<text class="lg" x="1270" y="212.5">E</text><rect class="lb E" x="1281" y="204.5" width="16" height="9"/>
<text class="lg" x="1270" y="225.5">F</text><rect class="lb F" x="1281" y="217.5" width="16" height="9"/>
<text class="lg" x="1270" y="239.5">P</text><rect class="lb P" x="1281" y="231.5" width="16" height="9"/>
<text class="lg" x="1270" y="252.5">I</text><rect class="lb I" x="1281" y="244.5" width="16" height="9"/>
<text class="lg" x="1270" y="265.5">H</text><rect class="lb H" x="1281" y="257.5" width="16" height="9"/>
<text class="lg" x="1270" y="278.5">Q</text><rect class="lb Q" x="1281" y="270.5" width="16" height="9"/>
<text class="lg" x="1270" y="291.5">S</text><rect class="lb S" x="1281" y="283.5" width="16" height="9"/>
<text class="lg" x="1270" y="304.5">R</text><rect class="lb R" x="1281" y="296.5" width="16" height="9"/>
<text class="lg" x="1270" y="317.5">Z</text><rect class="lb Z" x="1281" y="309.5" width="16" height="9"/>
</g>
</svg>
